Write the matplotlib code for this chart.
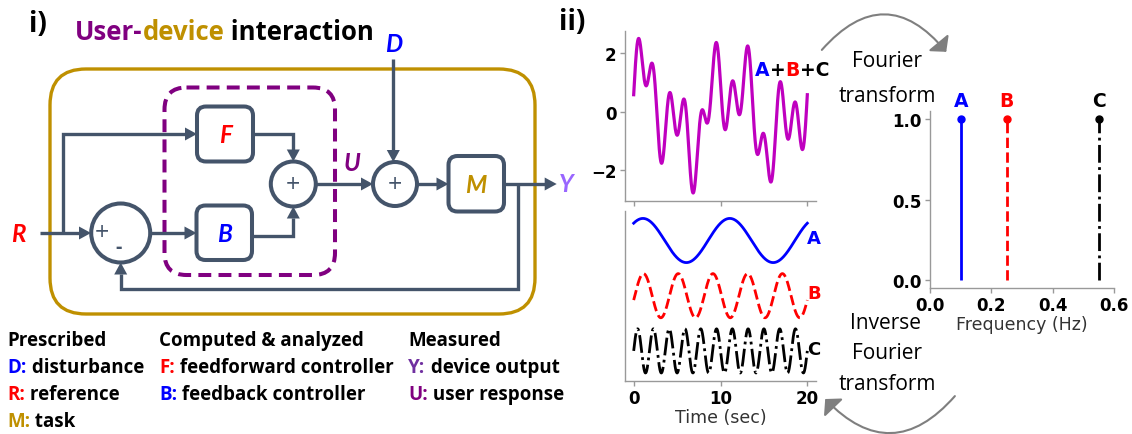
import numpy as np
import matplotlib.pyplot as plt
from matplotlib.patches import FancyBboxPatch, Circle, Polygon, FancyArrowPatch

# spectrum of panel ii (frequency in Hz, amplitude) and the phase of each trace
components = ["A", "B", "C"]
freqs = [0.1, 0.25, 0.55]
amps = [1.0, 1.0, 1.0]
phases = [0.9, -0.2, 0.0]
offsets = [0.0, -2.5, -5.0]      # vertical shift of each trace in the lower time plot
comp_colors = ["#0000FF", "#FF0000", "black"]
comp_styles = ["-", "--", "-."]
time_ticks = [0, 10, 20]
sum_yticks = [-2, 0, 2]
freq_ticks = [0.0, 0.2, 0.4, 0.6]
amp_ticks = [0.0, 0.5, 1.0]

# legend of panel i
legend_heads = ["Prescribed", "Computed & analyzed", "Measured"]
legend_rows = [
    [("D:", "disturbance", "#0000FF"), ("R:", "reference", "#FF0000"), ("M:", "task", "#BF9000")],
    [("F:", "feedforward controller", "#FF0000"), ("B:", "feedback controller", "#0000FF")],
    [("Y:", "device output", "#7030A0"), ("U:", "user response", "#800080")],
]

SLATE = "#44546A"
GOLD = "#BF9000"
PURPLE = "#800080"
LAVENDER = "#9966FF"
GREY = "#7F7F7F"
SANS = ["Lato", "DejaVu Sans"]
OPEN = ["Open Sans", "DejaVu Sans"]

fig = plt.figure(figsize=(11.32, 4.35), dpi=100)

# ---------------- panel i: block diagram, drawn in pixel units ----------------
bg = fig.add_axes([0, 0, 1, 1])
bg.set_xlim(0, 1132)
bg.set_ylim(435, 0)
bg.axis("off")
bg.set_zorder(10)


def arrow_line(pts, head=True):
    xs = [p[0] for p in pts]
    ys = [p[1] for p in pts]
    if head:
        (x1, y1), (x2, y2) = pts[-2], pts[-1]
        d = np.hypot(x2 - x1, y2 - y1)
        ux, uy = (x2 - x1) / d, (y2 - y1) / d
        hl, hw = 12, 6.5
        bx, by = x2 - ux * hl, y2 - uy * hl
        xs[-1], ys[-1] = bx + ux * 1, by + uy * 1
        bg.add_patch(Polygon([(x2, y2), (bx - uy * hw, by + ux * hw), (bx + uy * hw, by - ux * hw)],
                             closed=True, fc=SLATE, ec="none", zorder=3))
    bg.plot(xs, ys, color=SLATE, lw=2.4, solid_capstyle="butt", solid_joinstyle="miter", zorder=3)


def block(x0, y0, x1, y1, label, color):
    bg.add_patch(FancyBboxPatch((x0, y0), x1 - x0, y1 - y0, boxstyle="round,pad=0,rounding_size=9",
                                fc="white", ec=SLATE, lw=2.9, zorder=4))
    bg.text((x0 + x1) / 2, (y0 + y1) / 2 + 1, label, color=color, fontsize=17.5, fontweight="bold",
            style="italic", family=SANS, ha="center", va="center", zorder=5)


def junction(x, y, r):
    bg.add_patch(Circle((x, y), r, fc="white", ec=SLATE, lw=2.9, zorder=4))


# outer device frame and dashed user frame
bg.add_patch(FancyBboxPatch((50, 70), 485, 245, boxstyle="round,pad=0,rounding_size=36",
                            fc="none", ec=GOLD, lw=2.4, zorder=1))
bg.add_patch(FancyBboxPatch((164.5, 88.5), 170.5, 187.5, boxstyle="round,pad=0,rounding_size=22",
                            fc="none", ec=PURPLE, lw=2.9, ls=(0, (3.2, 1.8)), zorder=2))

# signal paths
arrow_line([(393.3, 60), (393.3, 163)])
arrow_line([(40, 234), (91, 234)])
arrow_line([(63.3, 234), (63.3, 135), (197, 135)])
arrow_line([(150, 234), (196.5, 234)])
arrow_line([(253, 135), (293.3, 135), (293.3, 162.5)])
arrow_line([(252, 237.3), (293.3, 237.3), (293.3, 207.5)])
arrow_line([(315.5, 185), (373, 185)])
arrow_line([(417, 185), (448.5, 185)])
arrow_line([(504, 185), (556.7, 185)])
arrow_line([(518.3, 185), (518.3, 290), (120.7, 290), (120.7, 263.5)])

block(197, 107.5, 253, 162.5, "F", "#FF0000")
block(196.5, 206.5, 252, 261, "B", "#0000FF")
block(448.5, 157, 504, 212.5, "M", GOLD)
junction(293.3, 185, 22.5)
junction(395, 185, 22)
junction(120.7, 234, 29.5)
for jx in (293.3, 395):
    bg.text(jx, 186, "+", color=SLATE, fontsize=18, family=OPEN, ha="center", va="center", zorder=5)
bg.text(102, 234, "+", color=SLATE, fontsize=18, family=OPEN, ha="center", va="center", zorder=5)
bg.text(118.5, 248, "-", color=SLATE, fontsize=14, fontweight="bold", family=OPEN,
        ha="center", va="center", zorder=5)

for lx, ly, s, c in [(18.3, 235, "R", "#FF0000"), (393.3, 45, "D", "#0000FF"),
                     (351.7, 163.3, "U", PURPLE), (566.7, 185, "Y", LAVENDER)]:
    bg.text(lx, ly, s, color=c, fontsize=17.5, fontweight="bold", style="italic", family=SANS,
            ha="center", va="center", zorder=5)


def chain(x, y, parts, size, weight="bold", family=OPEN):
    first = None
    for s, c in parts:
        if first is None:
            first = bg.text(x, y, s, color=c, fontsize=size, fontweight=weight, family=family,
                            ha="left", va="center")
        else:
            first = bg.annotate(s, xy=(1, 0), xycoords=first, color=c, fontsize=size,
                                fontweight=weight, family=family, ha="left", va="bottom")
    return first


bg.text(38, 24, "i)", fontsize=20, fontweight="bold", family=OPEN, ha="center", va="center")
bg.text(572.5, 23, "ii)", fontsize=20, fontweight="bold", family=OPEN, ha="center", va="center")
chain(75, 32, [("User-", PURPLE), ("device", GOLD), (" interaction", "black")], 18.5)

col_x = [7.3, 159.3, 408.3]
row_y = [341, 368.3, 395, 422.3]
for cx, head, rows in zip(col_x, legend_heads, legend_rows):
    bg.text(cx, row_y[0], head, fontsize=13.5, fontweight="bold", family=OPEN, ha="left", va="center")
    for ry, (key, desc, kc) in zip(row_y[1:], rows):
        chain(cx, ry, [(key, kc), (" " + desc, "black")], 13.5)

# ---------------- panel ii: Fourier decomposition ----------------
t = np.linspace(0, 20, 2001)
waves = [a * np.sin(2 * np.pi * f * t + p) for f, a, p in zip(freqs, amps, phases)]
total = np.sum(waves, axis=0)


def style_axes(ax):
    for side in ("top", "right"):
        ax.spines[side].set_visible(False)
    for side in ("left", "bottom"):
        ax.spines[side].set_color("#999999")
        ax.spines[side].set_linewidth(1.0)
    ax.set_facecolor("none")
    ax.tick_params(colors="#999999", labelcolor="black", length=3.5, width=1.0, pad=2.5,
                   labelsize=12)
    for lab in ax.get_xticklabels() + ax.get_yticklabels():
        lab.set_fontweight("bold")


ax_sum = fig.add_axes([625 / 1132, 1 - 201.7 / 435, 191 / 1132, 170 / 435])
ax_sum.plot(t, total, color="#BF00BF", lw=2.3)
ax_sum.set_xticks(time_ticks)
ax_sum.set_xticklabels([])
ax_sum.set_yticks(sum_yticks)
ax_sum.set_yticklabels([f"{v}".replace("-", "\u2212") for v in sum_yticks])
style_axes(ax_sum)

ax_parts = fig.add_axes([625 / 1132, 1 - 381.7 / 435, 191 / 1132, 170 / 435])
for w, off, c, ls in zip(waves, offsets, comp_colors, comp_styles):
    ax_parts.plot(t, w + off, color=c, ls=ls, lw=2.0)
ax_parts.set_xticks(time_ticks)
ax_parts.set_xticklabels([str(v) for v in time_ticks])
ax_parts.set_yticks([])
ax_parts.set_xlabel("Time (sec)", fontsize=12.5, color="#333333", labelpad=1)
style_axes(ax_parts)
for name, off, c in zip(components, offsets, comp_colors):
    ax_parts.text(20.75, off + 0.1, name, color=c, fontsize=13, fontweight="bold",
                  ha="center", va="center", clip_on=False)

ax_freq = fig.add_axes([930 / 1132, 1 - 289.3 / 435, 184 / 1132, 177.6 / 435])
for name, f, a, c, ls in zip(components, freqs, amps, comp_colors, comp_styles):
    markers, stems, base = ax_freq.stem([f], [a], linefmt=ls, markerfmt="o", basefmt=" ")
    stems.set_color(c)
    stems.set_linewidth(2.0)
    markers.set_color(c)
    markers.set_markersize(5)
    ax_freq.text(f, a + 0.115, name, color=c, fontsize=13.5, fontweight="bold",
                 ha="center", va="center", clip_on=False)
ax_freq.set_xlim(0, 0.6)
ax_freq.set_ylim(-0.05, 1.05)
ax_freq.set_xticks(freq_ticks)
ax_freq.set_xticklabels([f"{v:.1f}" for v in freq_ticks])
ax_freq.set_yticks(amp_ticks)
ax_freq.set_yticklabels([f"{v:.1f}" for v in amp_ticks])
ax_freq.set_xlabel("Frequency (Hz)", fontsize=12.5, color="#333333", labelpad=1)
style_axes(ax_freq)
ax_freq.tick_params(axis="x", pad=2.0)

# "A+B+C" title of the summed trace
chain(755, 70, [("A", "#0000FF"), ("+", "black"), ("B", "#FF0000"), ("+C", "black")], 13.5,
      family="DejaVu Sans")

# transform annotations and curved arrows
for s, x, y in [("Fourier", 887, 61.7), ("transform", 887.5, 96.7),
                ("Inverse", 885, 324), ("Fourier", 887, 354), ("transform", 887, 385)]:
    bg.text(x, y, s, fontsize=15, family=OPEN, ha="center", va="center")

head = "-|>,head_length=0.45,head_width=0.5"
bg.add_patch(FancyArrowPatch((820, 53), (948, 55), connectionstyle="arc3,rad=-0.6",
                             arrowstyle=head, mutation_scale=16, color=GREY, lw=1.5))
bg.add_patch(FancyArrowPatch((956.7, 395), (823.3, 398), connectionstyle="arc3,rad=-0.56",
                             arrowstyle=head, mutation_scale=16, color=GREY, lw=1.5))

fig.savefig("out.png", dpi=100)
